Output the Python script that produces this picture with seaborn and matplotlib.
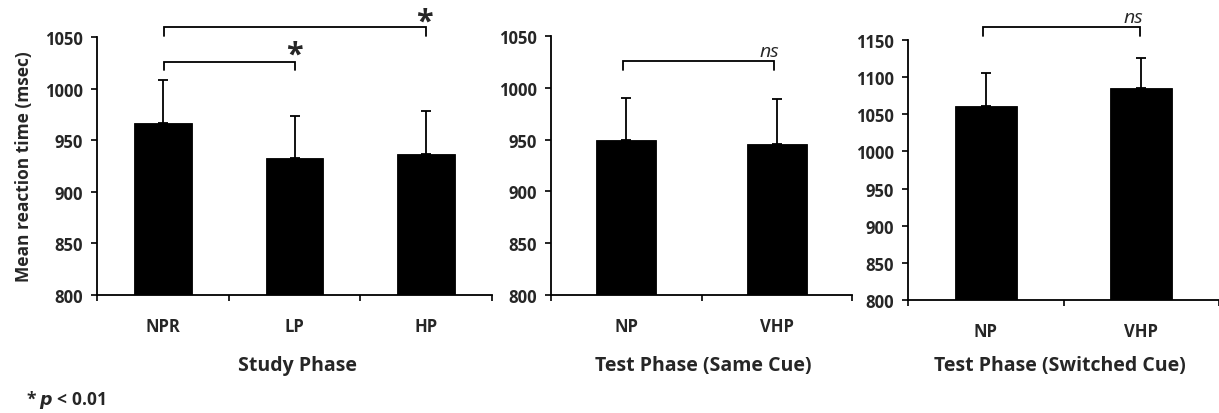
import numpy as np
import pandas as pd
import matplotlib
matplotlib.use("Agg")
import matplotlib.pyplot as plt
import seaborn as sns

# ---- data ----
study_cats = ["NPR", "LP", "HP"]
study_means = [967, 933, 937]
study_errs = [41, 40, 41]

same_cats = ["NP", "VHP"]
same_means = [950, 946]
same_errs = [40, 43]

switch_cats = ["NP", "VHP"]
switch_means = [1061, 1085]
switch_errs = [44, 41]

sns.set_theme(style="white")
plt.rcParams['font.family'] = ['Open Sans', 'DejaVu Sans']

W, H = 1219, 414
fig = plt.figure(figsize=(W / 100, H / 100), dpi=100)

TICK_FS = 12


def ax_at(left, top, right, bottom):
    return fig.add_axes([left / W, 1 - bottom / H, (right - left) / W, (bottom - top) / H])


def panel(ax, cats, means, errs, ylim, yticks, xlim, width):
    df = pd.DataFrame({"cat": cats, "val": means})
    sns.barplot(data=df, x="cat", y="val", ax=ax, color="black", width=width,
                errorbar=None, saturation=1, edgecolor="black", linewidth=0.6)
    x = np.arange(len(cats))
    ax.errorbar(x, means, yerr=[np.zeros(len(errs)), errs], fmt="none",
                ecolor="black", elinewidth=1.3, capsize=3.5, capthick=1.3)
    ax.set_ylim(*ylim)
    ax.set_xlim(*xlim)
    ax.set_yticks(yticks)
    ax.set_yticklabels([str(t) for t in yticks], fontsize=TICK_FS, fontweight="bold")
    ax.set_xticks(x)
    ax.set_xticklabels(cats, fontsize=TICK_FS, fontweight="bold")
    ax.set_xticks(np.arange(-0.5, len(cats), 1.0), minor=True)
    ax.tick_params(axis="x", which="major", length=0, pad=16)
    ax.tick_params(axis="x", which="minor", length=4, width=1.2, direction="out",
                   bottom=True, color="black")
    ax.tick_params(axis="y", which="major", length=4, width=1.2, direction="out",
                   left=True, color="black", pad=6)
    for s in ["top", "right"]:
        ax.spines[s].set_visible(False)
    for s in ["left", "bottom"]:
        ax.spines[s].set_linewidth(1.3)
        ax.spines[s].set_color("black")
    ax.set_xlabel("")
    ax.set_ylabel("")


def bracket(ax, x0, x1, y, leg, txt, tx, ty, style="normal", size=12, weight="normal"):
    ax.plot([x0, x0, x1, x1], [y - leg, y, y, y - leg], color="black", lw=1.3,
            clip_on=False, solid_joinstyle="miter")
    ax.text(tx, ty, txt, ha="center", va="center", fontsize=size,
            fontstyle=style, fontweight=weight, clip_on=False)


ax1 = ax_at(97, 38, 492, 296)
panel(ax1, study_cats, study_means, study_errs, (800, 1050),
      [800, 850, 900, 950, 1000, 1050], (-0.5, 2.5), 0.44)
bracket(ax1, 0.01, 1.0, 1026, 8, "*", 1.0, 1033, size=22, weight="bold")
bracket(ax1, 0.01, 2.0, 1060, 9, "*", 1.99, 1065, size=22, weight="bold")

ax2 = ax_at(551, 37, 852, 296)
panel(ax2, same_cats, same_means, same_errs, (800, 1050),
      [800, 850, 900, 950, 1000, 1050], (-0.5, 1.43), 0.40)
bracket(ax2, -0.02, 0.98, 1025.5, 8, "ns", 0.95, 1036, style="italic", size=14)

ax3 = ax_at(908, 41, 1219, 301)
panel(ax3, switch_cats, switch_means, switch_errs, (800, 1150),
      [800, 850, 900, 950, 1000, 1050, 1100, 1150], (-0.5, 1.5), 0.40)
bracket(ax3, -0.02, 0.99, 1167, 11, "ns", 0.95, 1181, style="italic", size=14)

# axis titles
TITLE_FS = 14
fig.text(297 / W, 1 - 366 / H, "Study Phase", ha="center", va="center",
         fontsize=TITLE_FS, fontweight="bold")
fig.text(703 / W, 1 - 366 / H, "Test Phase (Same Cue)", ha="center", va="center",
         fontsize=TITLE_FS, fontweight="bold")
fig.text(1060 / W, 1 - 366 / H, "Test Phase (Switched Cue)", ha="center", va="center",
         fontsize=TITLE_FS, fontweight="bold")
fig.text(24 / W, 1 - 167 / H, "Mean reaction time (msec)", ha="center", va="center",
         rotation=90, fontsize=12.5, fontweight="bold")
fig.text(26 / W, 1 - 400 / H, r"* $\boldsymbol{p}$ < 0.01", ha="left", va="center",
         fontsize=12.5, fontweight="bold")

fig.savefig("out.png", dpi=100)
